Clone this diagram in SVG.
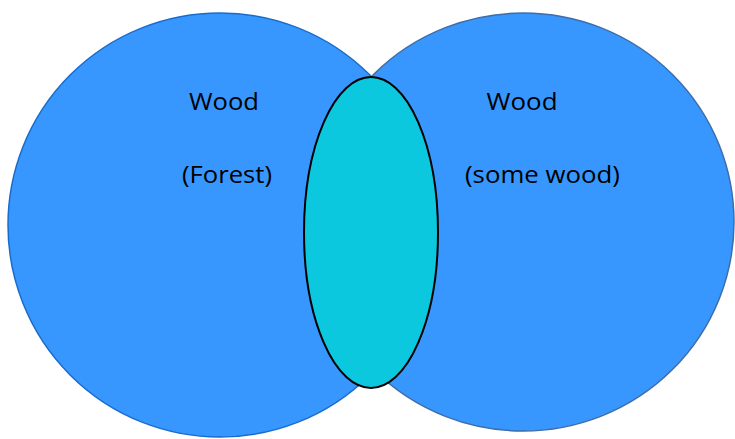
<svg xmlns="http://www.w3.org/2000/svg" width="735" height="439" viewBox="0 0 735 439">
<style>
.lbl{font-family:"Open Sans","Liberation Sans",sans-serif;font-size:23px;fill:#000;text-anchor:middle}
</style>
<rect width="735" height="439" fill="#fff"/>
<g id="left-circle">
<circle cx="220" cy="225" r="212" fill="#3797FF" stroke="#1A6CCC" stroke-width="1.5"/>
</g>
<g id="right-circle">
<ellipse cx="523" cy="222" rx="211" ry="209" fill="#3797FF" stroke="#3D6DAA" stroke-width="1.5"/>
</g>
<g id="intersection">
<ellipse cx="371" cy="232.5" rx="67" ry="155.5" fill="#0CC8DE" stroke="#000" stroke-width="2"/>
</g>
<g id="labels">
<text class="lbl" x="224" y="110" textLength="70" lengthAdjust="spacingAndGlyphs">Wood</text>
<text class="lbl" x="227" y="183" textLength="90" lengthAdjust="spacingAndGlyphs">(Forest)</text>
<text class="lbl" x="522" y="110" textLength="71" lengthAdjust="spacingAndGlyphs">Wood</text>
<text class="lbl" x="542.5" y="183" textLength="155" lengthAdjust="spacingAndGlyphs">(some wood)</text>
</g>
</svg>
